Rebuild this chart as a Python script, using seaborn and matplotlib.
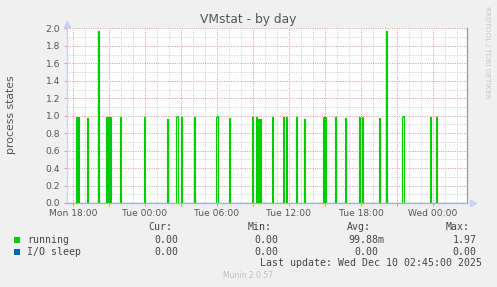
import numpy as np
import pandas as pd
import matplotlib
matplotlib.use("Agg")
import matplotlib.pyplot as plt
import matplotlib.dates as mdates
from matplotlib.patches import Rectangle
from matplotlib.ticker import MultipleLocator, FuncFormatter
import seaborn as sns

# ---------------- data ----------------
window_start = "2025-12-08 17:30"
window_end = "2025-12-10 02:50"

spike_times = [
    "2025-12-08 18:15", "2025-12-08 18:25", "2025-12-08 19:10", "2025-12-08 20:05",
    "2025-12-08 20:45", "2025-12-08 20:55", "2025-12-08 21:05", "2025-12-08 21:55",
    "2025-12-08 23:55",
    "2025-12-09 01:50", "2025-12-09 02:35", "2025-12-09 02:40", "2025-12-09 03:00",
    "2025-12-09 04:05", "2025-12-09 05:55", "2025-12-09 06:00", "2025-12-09 07:00",
    "2025-12-09 08:55", "2025-12-09 09:15", "2025-12-09 09:25", "2025-12-09 09:35",
    "2025-12-09 10:35", "2025-12-09 11:30", "2025-12-09 11:45", "2025-12-09 12:35",
    "2025-12-09 13:15", "2025-12-09 14:50", "2025-12-09 15:00", "2025-12-09 15:50",
    "2025-12-09 16:40", "2025-12-09 17:50", "2025-12-09 18:05", "2025-12-09 19:30",
    "2025-12-09 20:05", "2025-12-09 21:25", "2025-12-09 21:30", "2025-12-09 23:45",
    "2025-12-10 00:15",
]
spike_values = [
    0.98, 0.98, 0.97, 1.97,
    0.98, 0.98, 0.98, 0.98,
    0.98,
    0.96, 0.99, 1.00, 0.98,
    0.98, 0.99, 1.00, 0.97,
    0.98, 0.98, 0.96, 0.96,
    0.98, 0.98, 0.98, 0.98,
    0.96, 0.98, 0.98, 0.98,
    0.97, 0.98, 0.98, 0.97,
    1.97, 0.99, 1.00, 0.98,
    0.98,
]
baseline_value = 0.0
io_sleep_value = 0.0

series_labels = ["running", "I/O sleep"]
series_colors = ["#00cc00", "#0066b3"]
stat_headers = ["Cur:", "Min:", "Avg:", "Max:"]
running_stats = ["0.00", "0.00", "99.88m", "1.97"]
iosleep_stats = ["0.00", "0.00", "0.00", "0.00"]
title = "VMstat - by day"
ylabel = "process states"
last_update = "Last update: Wed Dec 10 02:45:00 2025"
footer = "Munin 2.0.57"
watermark = "RRDTOOL / TOBI OETIKER"

# ---------------- build frame ----------------
times = pd.date_range(window_start, window_end, freq="5min")
running = pd.Series(baseline_value, index=times)
running[pd.to_datetime(spike_times)] = spike_values
iosleep = pd.Series(io_sleep_value, index=times)
df = pd.DataFrame({"time": times, "running": running.values, "iosleep": iosleep.values})

# ---------------- figure ----------------
W, H = 497, 287
fig = plt.figure(figsize=(W / 100, H / 100), dpi=100, facecolor="#f0f0f0")

def fx(px):
    return px / W

def fy(py):
    return 1 - py / H

ax_left, ax_right, ax_top, ax_bottom = 67, 467, 28.4, 203
ax = fig.add_axes([fx(ax_left), fy(ax_bottom), (ax_right - ax_left) / W, (ax_bottom - ax_top) / H])
ax.set_facecolor("white")

sns.lineplot(data=df, x="time", y="iosleep", ax=ax, color=series_colors[1],
             linewidth=0.8, drawstyle="steps-post", estimator=None, zorder=2)
sns.lineplot(data=df, x="time", y="running", ax=ax, color=series_colors[0],
             linewidth=0.8, drawstyle="steps-post", estimator=None, zorder=3)

ax.set_xlim(pd.Timestamp(window_start), pd.Timestamp(window_end))
ax.set_ylim(0, 2.0)

# grid
ax.set_axisbelow(True)
ax.xaxis.set_major_locator(mdates.HourLocator(byhour=range(0, 24, 3)))
ax.xaxis.set_minor_locator(mdates.HourLocator())

def xfmt(v, pos):
    d = mdates.num2date(v)
    if d.hour % 6 == 0:
        return d.strftime("%a %H:%M")
    return ""

ax.xaxis.set_major_formatter(FuncFormatter(xfmt))
ax.yaxis.set_major_locator(MultipleLocator(0.2))
ax.yaxis.set_minor_locator(MultipleLocator(0.1))
ax.yaxis.set_major_formatter(FuncFormatter(lambda v, p: f"{v:.1f}"))

ax.grid(which="major", color="#e8a4a4", linestyle=(0, (1.2, 1.2)), linewidth=0.7)
ax.grid(which="minor", color="#d6d6d6", linestyle=(0, (1.2, 1.2)), linewidth=0.7)

ax.tick_params(axis="x", which="major", labelsize=6.6, labelcolor="#555555",
               color="#e08080", length=2, width=0.6, pad=2)
ax.tick_params(axis="x", which="minor", length=0)
ax.tick_params(axis="y", which="major", labelsize=6.6, labelcolor="#555555",
               color="#e08080", length=2, width=0.6, pad=3)
ax.tick_params(axis="y", which="minor", length=0)

ax.set_xlabel("")
ax.set_ylabel("")

ax.spines["top"].set_visible(False)
ax.spines["left"].set_color("#c8cff0")
ax.spines["left"].set_linewidth(0.9)
ax.spines["bottom"].set_color("#a8b0dc")
ax.spines["bottom"].set_linewidth(0.9)
ax.spines["right"].set_color("#9a9a9a")
ax.spines["right"].set_linewidth(0.9)

# axis arrows
ax.plot([0], [1.025], marker="^", markersize=4, color="#c8d0f5", transform=ax.transAxes,
        clip_on=False, zorder=5)
ax.plot([1.015], [0], marker=">", markersize=4, color="#c8d0f5", transform=ax.transAxes,
        clip_on=False, zorder=5)

# ---------------- texts ----------------
fig.text(fx(248.5), fy(19.5), title, ha="center", va="center", fontsize=8.8,
         color="#555555", family="DejaVu Sans")
fig.text(fx(11), fy(114.5), ylabel, ha="center", va="center", rotation=90,
         fontsize=7.8, color="#555555", family="DejaVu Sans")
fig.text(fx(487), fy(52), watermark, ha="center", va="center", rotation=-90,
         fontsize=5.2, color="#c8c8c8", family="DejaVu Sans")

mono = dict(family="DejaVu Sans Mono", fontsize=7.1, color="#444444", va="center")
header_right = [172, 272, 371, 470]
for h, xr in zip(stat_headers, header_right):
    fig.text(fx(xr), fy(227.3), h, ha="right", **mono)

row_y = [239.7, 251.7]
stat_rows = [running_stats, iosleep_stats]
value_right = [[178.7, 278.7, 384, 476.7], [178.7, 278.7, 378, 476.7]]
for lbl, col, y, stats, xrs in zip(series_labels, series_colors, row_y, stat_rows, value_right):
    fig.add_artist(Rectangle((fx(14), fy(y + 3)), 6 / W, 6 / H, transform=fig.transFigure,
                             facecolor=col, edgecolor="none"))
    fig.text(fx(27), fy(y), lbl, ha="left", **mono)
    for v, xr in zip(stats, xrs):
        fig.text(fx(xr), fy(y), v, ha="right", **mono)

fig.text(fx(482.3), fy(263.3), last_update, ha="right", **mono)
fig.text(fx(248), fy(276), footer, ha="center", va="center", fontsize=5.5,
         color="#c0c0c0", family="DejaVu Sans")

fig.savefig("out.png", dpi=100, facecolor=fig.get_facecolor())
